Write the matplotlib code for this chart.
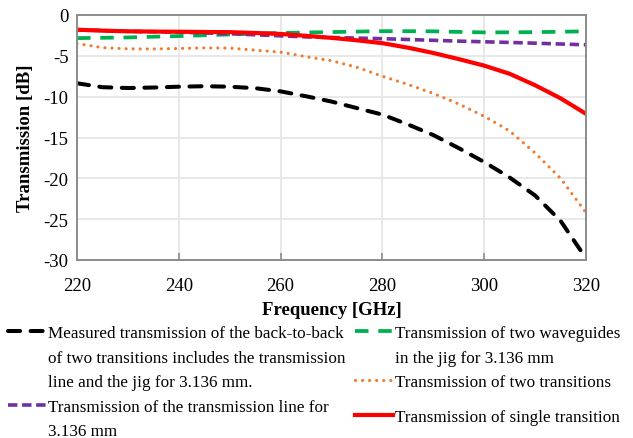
import matplotlib
matplotlib.use("Agg")
import matplotlib.pyplot as plt
from matplotlib.lines import Line2D

plt.rcParams['font.family'] = ['Liberation Serif', 'DejaVu Serif']
plt.rcParams['font.size'] = 13.5
plt.rcParams['axes.unicode_minus'] = False

# frequency sweep [GHz] and transmission curves [dB]
freq = [220, 225, 230, 235, 240, 245, 250, 255, 260, 265, 270,
        275, 280, 285, 290, 295, 300, 305, 310, 315, 320]

measured_b2b = [-8.36, -8.84, -8.94, -8.88, -8.78, -8.72, -8.78, -8.96, -9.35, -9.95, -10.6,
                -11.4, -12.2, -13.4, -14.7, -16.3, -18.0, -19.9, -22.1, -25.2, -29.8]
waveguides = [-2.83, -2.79, -2.75, -2.66, -2.58, -2.48, -2.38, -2.29, -2.2, -2.14, -2.09,
              -2.03, -1.98, -1.98, -2.0, -2.07, -2.13, -2.12, -2.1, -2.05, -2.0]
tline = [-1.8, -1.9, -2.0, -2.05, -2.1, -2.2, -2.3, -2.42, -2.55, -2.68, -2.76,
         -2.83, -2.9, -3.0, -3.1, -3.2, -3.28, -3.36, -3.45, -3.55, -3.65]
two_trans = [-3.5, -4.0, -4.14, -4.16, -4.1, -4.03, -4.05, -4.3, -4.55, -5.1, -5.6,
             -6.4, -7.5, -8.5, -9.6, -10.9, -12.4, -14.2, -16.9, -20.0, -24.2]
single_trans = [-1.8, -1.92, -2.0, -2.03, -2.05, -2.08, -2.1, -2.2, -2.32, -2.55, -2.8,
                -3.1, -3.45, -4.0, -4.65, -5.4, -6.2, -7.2, -8.6, -10.2, -12.1]

labels_b2b = ["Measured transmission of the back-to-back",
              "of two transitions includes the transmission",
              "line and the jig for 3.136 mm."]
labels_tline = ["Transmission of the transmission line for", "3.136 mm"]
labels_wg = ["Transmission of two waveguides", "in the jig for 3.136 mm"]
label_two = "Transmission of two transitions"
label_single = "Transmission of single transition"

c_black = '#000000'
c_green = '#00b050'
c_purple = '#7030a0'
c_orange = '#ed7d31'
c_red = '#ff0000'

fig = plt.figure(figsize=(6.33, 4.39), dpi=100)
ax = fig.add_axes([77 / 633, 1 - 261 / 439, 509 / 633, 245 / 439])

styles = {
    'b2b': dict(color=c_black, lw=2.9, linestyle=(0, (3.0, 2.6)), dash_capstyle='round'),
    'wg': dict(color=c_green, lw=2.7, linestyle=(0, (3.6, 2.6))),
    'tline': dict(color=c_purple, lw=2.6, linestyle=(0, (2.6, 1.3))),
    'two': dict(color=c_orange, lw=2.3, linestyle=(0, (0.01, 2.2)), dash_capstyle='round'),
    'single': dict(color=c_red, lw=3.0, linestyle='-'),
}

ax.plot(freq, measured_b2b, **styles['b2b'])
ax.plot(freq, waveguides, **styles['wg'])
ax.plot(freq, tline, **styles['tline'])
ax.plot(freq, two_trans, **styles['two'])
ax.plot(freq, single_trans, **styles['single'])

ax.set_xlim(220, 320)
ax.set_ylim(-30, 0)
ax.set_xticks(range(220, 321, 20))
ax.set_yticks(range(-30, 1, 5))
ax.grid(True, color='#e6e6e6', lw=1.3)
ax.set_axisbelow(True)
for s in ax.spines.values():
    s.set_color('#8c8c8c')
    s.set_linewidth(1.4)
ax.tick_params(axis='x', direction='in', length=5, color='#8c8c8c', width=1.2, pad=12)
ax.tick_params(axis='y', length=0, pad=6)

ax.set_xlabel("Frequency [GHz]", fontweight='bold', labelpad=5)
ax.set_ylabel("Transmission [dB]", fontweight='bold', labelpad=7)

# legend split into two columns; continuation lines get empty handles
blank = Line2D([], [], color='none')
leg_kw = dict(loc='upper left', frameon=False, borderpad=0, borderaxespad=0,
              handlelength=2.2, handletextpad=0.15, labelspacing=0.5, fontsize=12.3)

left_handles = [Line2D([], [], **styles['b2b']), blank, blank,
                Line2D([], [], **styles['tline']), blank]
left_labels = labels_b2b + labels_tline
fig.legend(left_handles, left_labels, bbox_to_anchor=(8 / 633, 1 - 326 / 439), **leg_kw)

right_handles = [Line2D([], [], **styles['wg']), blank, Line2D([], [], **styles['two'])]
right_labels = labels_wg + [label_two]
fig.legend(right_handles, right_labels, bbox_to_anchor=(355 / 633, 1 - 326 / 439), **leg_kw)

fig.legend([Line2D([], [], **styles['single'])], [label_single],
           bbox_to_anchor=(355 / 633, 1 - 410 / 439), **leg_kw)

fig.savefig("out.png", dpi=100)
